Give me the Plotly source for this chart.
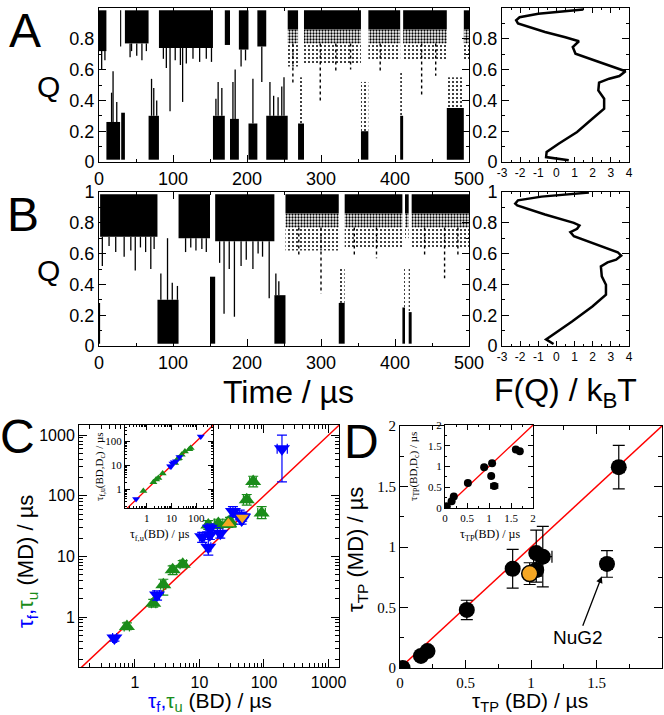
import plotly.graph_objects as go

# ======================= DATA =======================
Q_TOP = 0.985
Q_BOT = 0.015

# Panel A: Q(t) trajectory described as folded (F) / unfolded (U) dwell segments
A_seg_t0 = [0, 10, 28.5, 30, 35, 67, 81, 154, 170, 177, 189, 202, 214, 226, 255, 269, 277, 354, 364, 407, 411, 470, 493]
A_seg_t1 = [10, 28.5, 30, 35, 67, 81, 154, 170, 177, 189, 202, 214, 226, 255, 269, 277, 354, 364, 407, 411, 470, 493, 500]
A_seg_state = ["F", "U", "F", "U", "F", "U", "F", "U", "F", "U", "F", "U", "F", "U",
               "F", "U", "F", "U", "F", "U", "F", "U", "F"]
A_seg_edge = [0.72, 0.26, 0.75, 0.32, 0.77, 0.30, 0.74, 0.30, 0.76, 0.28, 0.73, 0.25, 0.75, 0.30,
              0.62, 0.55, 0.64, 0.52, 0.66, 0.58, 0.66, 0.55, 0.66]
A_seg_core = [0.72, 0.26, 0.75, 0.32, 0.77, 0.30, 0.74, 0.30, 0.76, 0.28, 0.73, 0.25, 0.75, 0.30,
              0.86, 0.25, 0.86, 0.20, 0.86, 0.30, 0.86, 0.35, 0.86]
A_sparse_from = 255
A_spike_t = [3.6, 8, 17, 19, 24, 42, 44, 51, 58, 64, 71, 74, 78, 87, 91, 96, 103, 110, 113, 118, 127,
             136, 145, 152, 158, 161, 166, 181, 184, 192, 198, 208, 220, 231, 236, 242, 247, 250,
             262, 299, 320, 340, 380, 436, 455]
A_spike_q = [0.60, 0.66, 0.45, 0.59, 0.39, 0.68, 0.72, 0.69, 0.66, 0.72, 0.54, 0.48, 0.40, 0.67, 0.61,
             0.33, 0.66, 0.63, 0.39, 0.64, 0.67, 0.65, 0.67, 0.65, 0.41, 0.52, 0.48, 0.52, 0.60, 0.62,
             0.66, 0.54, 0.52, 0.52, 0.43, 0.42, 0.49, 0.55,
             0.50, 0.39, 0.58, 0.60, 0.58, 0.43, 0.56]

# Panel B
B_seg_t0 = [0, 1.5, 79, 107.5, 150, 157, 237, 252, 324, 332, 410, 413.5, 418.5, 422.5]
B_seg_t1 = [1.5, 79, 107.5, 150, 157, 237, 252, 324, 332, 410, 413.5, 418.5, 422.5, 500]
B_seg_state = ["U", "F", "U", "F", "U", "F", "U", "F", "U", "F", "U", "F", "U", "F"]
B_seg_edge = [0.28, 0.71, 0.30, 0.70, 0.45, 0.68, 0.33, 0.62, 0.50, 0.63, 0.50, 0.70, 0.50, 0.64]
B_seg_core = [0.28, 0.71, 0.30, 0.70, 0.45, 0.68, 0.33, 0.86, 0.28, 0.86, 0.25, 0.86, 0.22, 0.86]
B_sparse_from = 252
B_spike_t = [4.5, 13.6, 22.6, 34, 43, 49, 56, 63, 70, 74.5, 83.6, 92.6, 99, 106, 117, 124, 131, 139,
             145, 163, 169, 176, 183, 192, 199, 208, 215, 221, 230, 239, 243,
             270, 300, 345, 375, 440, 467, 485]
B_spike_q = [0.52, 0.65, 0.61, 0.58, 0.62, 0.49, 0.64, 0.61, 0.50, 0.63, 0.47, 0.70, 0.41, 0.39, 0.61,
             0.64, 0.62, 0.63, 0.61, 0.54, 0.21, 0.50, 0.19, 0.52, 0.56, 0.50, 0.60, 0.58, 0.31, 0.47,
             0.42, 0.58, 0.34, 0.58, 0.57, 0.58, 0.44, 0.58]

# Free-energy profiles F(Q)
A_fe_F = [1.48, -1.0, -2.03, -2.22, -2.12, -0.63, 0.49, 1.24, 0.90, 1.05, 2.35, 3.38, 3.81, 3.47, 2.91,
          2.35, 2.31, 2.63, 2.63, 1.98, 1.14, 0.12, -0.54, -0.57, 0.68]
A_fe_Q = [0.99, 0.963, 0.94, 0.92, 0.90, 0.844, 0.81, 0.784, 0.747, 0.703, 0.649, 0.606, 0.589, 0.558,
          0.541, 0.515, 0.465, 0.411, 0.346, 0.281, 0.195, 0.119, 0.065, 0.032, 0.011]
B_fe_F = [1.79, -0.82, -2.12, -2.27, -2.16, -0.63, 0.96, 1.27, 1.14, 0.77, 0.96, 2.54, 3.38, 3.57, 3.29,
          2.82, 2.45, 2.50, 2.73, 2.73, 1.98, 0.86, -0.07, -0.57, -0.16]
B_fe_Q = [0.996, 0.97, 0.946, 0.924, 0.913, 0.854, 0.80, 0.783, 0.761, 0.739, 0.713, 0.648, 0.609, 0.587,
          0.561, 0.543, 0.517, 0.452, 0.398, 0.333, 0.257, 0.159, 0.083, 0.043, 0.013]
FE_ticks = [-3, -2, -1, 0, 1, 2, 3, 4]
FE_ticktext = ["-3", "-2", "-1", "0", "1", "2", "3", "4"]

# Panel C: folding (tau_f, blue) and unfolding (tau_u, green) times, BD vs MD
C_f_bd = [0.48, 2.2, 13.7, 11, 14.5, 14.5, 21, 42, 45, 33, 190]
C_f_bd_lo = [0.45, 2.0, 12.5, 10, 13.3, 13.3, 19, 39, 42, 30, 160]
C_f_bd_hi = [0.52, 2.4, 15, 12, 15.8, 15.8, 23, 45, 48, 36, 230]
C_f_md = [0.45, 2.3, 14.2, 21, 22.7, 29, 24, 48, 40, 55, 600]
C_f_md_lo = [0.40, 1.9, 10.5, 17, 19, 25, 20, 40, 34, 46, 170]
C_f_md_hi = [0.50, 2.7, 19, 25, 27, 34, 30, 58, 48, 66, 1000]
C_u_bd = [0.75, 1.92, 2.75, 3.84, 5.5, 13.7, 19.6, 29.7, 54, 68, 92]
C_u_bd_lo = [0.68, 1.8, 2.5, 3.5, 5.0, 12.5, 17, 27, 48, 60, 80]
C_u_bd_hi = [0.82, 2.1, 3.0, 4.4, 6.3, 15, 23, 33, 60, 76, 105]
C_u_md = [0.70, 1.68, 3.4, 6.0, 7.4, 33, 35, 37.6, 86, 172, 52]
C_u_md_lo = [0.62, 1.45, 2.3, 5.0, 6.5, 28, 29, 32, 70, 140, 42]
C_u_md_hi = [0.80, 1.95, 4.2, 7.0, 8.5, 39, 41, 44, 105, 210, 66]
C_hl_u = (28, 35, 30, 41)     # highlighted unfolding: bd, md, md_lo, md_hi
C_hl_f = (46, 44, 38, 50)     # highlighted folding
C_diag = [0.05, 5000]
C_ticks = [1, 10, 100, 1000]
# inset C: BD with Dc vs BD
Ci_f_bd = [0.37, 8.8, 9.6, 11, 12.5, 15.4, 21, 153]
Ci_f_bdc = [0.39, 9.2, 9.0, 11.9, 13.5, 14.8, 22.5, 160]
Ci_u_bd = [0.73, 1.86, 2.4, 2.95, 4.4, 14, 18, 20, 26, 35, 53, 60]
Ci_u_bdc = [0.85, 2.0, 2.6, 3.0, 4.6, 12.7, 19, 20, 28, 38, 48, 53]
Ci_ticks = [1, 10, 100]

# Panel D: transition-path times
D_bd = [0.02, 0.16, 0.21, 0.51, 0.86, 1.04, 1.04, 1.09, 1.67, 1.58]
D_md = [0.00, 0.10, 0.14, 0.48, 0.82, 0.81, 0.95, 0.92, 1.66, 0.86]
D_md_err = [0, 0.02, 0.02, 0.08, 0.16, 0.10, 0.19, 0.25, 0.18, 0.11]
D_bd_err = [0, 0, 0, 0, 0, 0, 0, 0.07, 0.04, 0.04]
D_hl = (0.99, 0.78, 0.09)
D_diag = [0, 2]
Di_bd = [0.04, 0.15, 0.20, 0.52, 0.89, 1.07, 1.05, 1.12, 1.61, 1.70]
Di_bdc = [0.04, 0.16, 0.28, 0.60, 0.98, 1.08, 0.77, 0.53, 1.41, 1.37]
Di_bd_err = [0, 0, 0, 0, 0, 0, 0, 0.08, 0, 0]
NUG2 = (1.54, 0.757)

# ======================= STYLE / LAYOUT =======================
W, H = 664, 715
SANS = "Liberation Sans, Arial, Helvetica, sans-serif"
SERIF = "Liberation Serif, Times New Roman, serif"
BLUE = "#0000ff"
GREEN = "#1a8c1a"
ORANGE = "#f5a623"
RED = "#ff0000"


def fx(p):
    return p / W


def fy(p):
    return 1 - p / H


fig = go.Figure()


def band(segs, xa, ya, solidity=None, size=3):
    segs = [s for s in segs if s[3] > s[2]]
    if not segs:
        return
    if solidity is None:
        marker = dict(color="black", line=dict(width=0))
    else:
        marker = dict(color="white", line=dict(width=0),
                      pattern=dict(shape=".", fgcolor="black", bgcolor="white",
                                   solidity=solidity, size=size, fillmode="replace"))
    fig.add_trace(go.Bar(x=[(a + b) / 2 for a, b, lo, hi in segs],
                         width=[b - a for a, b, lo, hi in segs],
                         base=[lo for a, b, lo, hi in segs],
                         y=[hi - lo for a, b, lo, hi in segs],
                         marker=marker, hoverinfo="skip", showlegend=False,
                         xaxis=xa, yaxis=ya))


def trajectory(t0s, t1s, states, edges, cores, sparse_from, sp_t, sp_q, xa, ya):
    black, mid, light = [], [], []
    for a, b, s, e, c in zip(t0s, t1s, states, edges, cores):
        if a < sparse_from:
            if s == "F":
                black.append((a, b, e, Q_TOP))
            else:
                black.append((a, b, Q_BOT, e))
        else:
            if s == "F":
                black.append((a, b, c, Q_TOP))
                mid.append((a, b, c - 0.09, c))
                light.append((a, b, e, c - 0.09))
            else:
                black.append((a, b, Q_BOT, c))
                light.append((a, b, c, e))
    band(light, xa, ya, solidity=0.2, size=4)
    band(mid, xa, ya, solidity=0.45, size=3)
    band(black, xa, ya)
    sx, sy, dx, dy = [], [], [], []
    for t, q in zip(sp_t, sp_q):
        for a, b, s, e, c in zip(t0s, t1s, states, edges, cores):
            if a <= t < b:
                if a < sparse_from:
                    sx += [t, t, None]
                    sy += [e, q, None]
                else:
                    base = c - 0.09 if s == "F" else c
                    dx += [t, t, None]
                    dy += [base, q, None]
                break
    fig.add_trace(go.Scatter(x=sx, y=sy, mode="lines", line=dict(color="black", width=1.3),
                             hoverinfo="skip", showlegend=False, xaxis=xa, yaxis=ya))
    fig.add_trace(go.Scatter(x=dx, y=dy, mode="lines", line=dict(color="black", width=1.4, dash="dot"),
                             hoverinfo="skip", showlegend=False, xaxis=xa, yaxis=ya))


trajectory(A_seg_t0, A_seg_t1, A_seg_state, A_seg_edge, A_seg_core, A_sparse_from,
           A_spike_t, A_spike_q, "x", "y")
fig.add_trace(go.Scatter(x=A_fe_F, y=A_fe_Q, mode="lines", line=dict(color="black", width=2.5),
                         showlegend=False, xaxis="x2", yaxis="y2"))
trajectory(B_seg_t0, B_seg_t1, B_seg_state, B_seg_edge, B_seg_core, B_sparse_from,
           B_spike_t, B_spike_q, "x3", "y3")
fig.add_trace(go.Scatter(x=B_fe_F, y=B_fe_Q, mode="lines", line=dict(color="black", width=2.5),
                         showlegend=False, xaxis="x4", yaxis="y4"))

# ---- Panel C ----
fig.add_trace(go.Scatter(x=C_diag, y=C_diag, mode="lines", line=dict(color=RED, width=1.5),
                         showlegend=False, xaxis="x5", yaxis="y5"))


def tri(xs, ys, xlo, xhi, ylo, yhi, sym, color, size, line_color=None, xa="x5", ya="y5"):
    fig.add_trace(go.Scatter(
        x=xs, y=ys, mode="markers",
        marker=dict(symbol=sym, size=size, color=color,
                    line=dict(color=line_color or color, width=1.5 if line_color else 0)),
        error_x=dict(type="data", symmetric=False,
                     array=[h - v for h, v in zip(xhi, xs)],
                     arrayminus=[v - l for l, v in zip(xlo, xs)],
                     color=line_color or color, thickness=1.2, width=5),
        error_y=dict(type="data", symmetric=False,
                     array=[h - v for h, v in zip(yhi, ys)],
                     arrayminus=[v - l for l, v in zip(ylo, ys)],
                     color=line_color or color, thickness=1.2, width=5),
        showlegend=False, xaxis=xa, yaxis=ya))


tri(C_u_bd, C_u_md, C_u_bd_lo, C_u_bd_hi, C_u_md_lo, C_u_md_hi, "triangle-up", GREEN, 14)
tri(C_f_bd, C_f_md, C_f_bd_lo, C_f_bd_hi, C_f_md_lo, C_f_md_hi, "triangle-down", BLUE, 14)
tri([C_hl_u[0]], [C_hl_u[1]], [C_hl_u[0]], [C_hl_u[0]], [C_hl_u[2]], [C_hl_u[3]],
    "triangle-up", ORANGE, 14, GREEN)
tri([C_hl_f[0]], [C_hl_f[1]], [C_hl_f[0]], [C_hl_f[0]], [C_hl_f[2]], [C_hl_f[3]],
    "triangle-down", ORANGE, 14, BLUE)

# inset C
fig.add_trace(go.Scatter(x=C_diag, y=C_diag, mode="lines", line=dict(color=RED, width=1.3),
                         showlegend=False, xaxis="x6", yaxis="y6"))
fig.add_trace(go.Scatter(x=Ci_u_bd, y=Ci_u_bdc, mode="markers",
                         marker=dict(symbol="triangle-up", size=7, color=GREEN),
                         showlegend=False, xaxis="x6", yaxis="y6"))
fig.add_trace(go.Scatter(x=Ci_f_bd, y=Ci_f_bdc, mode="markers",
                         marker=dict(symbol="triangle-down", size=7, color=BLUE),
                         showlegend=False, xaxis="x6", yaxis="y6"))

# ---- Panel D ----
fig.add_trace(go.Scatter(x=D_diag, y=D_diag, mode="lines", line=dict(color=RED, width=1.5),
                         showlegend=False, xaxis="x7", yaxis="y7"))
fig.add_trace(go.Scatter(x=D_bd, y=D_md, mode="markers",
                         marker=dict(symbol="circle", size=16, color="black"),
                         error_y=dict(type="data", array=D_md_err, color="black", thickness=1.2, width=6),
                         error_x=dict(type="data", array=D_bd_err, color="black", thickness=1.2, width=6),
                         showlegend=False, xaxis="x7", yaxis="y7"))
fig.add_trace(go.Scatter(x=[D_hl[0]], y=[D_hl[1]], mode="markers",
                         marker=dict(symbol="circle", size=16, color=ORANGE,
                                     line=dict(color="black", width=1.5)),
                         error_y=dict(type="data", array=[D_hl[2]], color="black", thickness=1.2, width=6),
                         showlegend=False, xaxis="x7", yaxis="y7"))
fig.add_trace(go.Scatter(x=D_diag, y=D_diag, mode="lines", line=dict(color=RED, width=1.3),
                         showlegend=False, xaxis="x8", yaxis="y8"))
fig.add_trace(go.Scatter(x=Di_bd, y=Di_bdc, mode="markers",
                         marker=dict(symbol="circle", size=8, color="black"),
                         error_x=dict(type="data", array=Di_bd_err, color="black", thickness=1, width=3),
                         showlegend=False, xaxis="x8", yaxis="y8"))


def axis(domain, rng, anchor, font, size, ticklen=7, minor=None, **kw):
    d = dict(domain=domain, range=rng, anchor=anchor, showline=True, linecolor="black",
             linewidth=1, mirror="allticks", ticks="inside", ticklen=ticklen, tickcolor="black",
             tickwidth=1, showgrid=False, zeroline=False, fixedrange=True, automargin=False,
             tickfont=dict(family=font, size=size, color="black"))
    if minor is not None:
        d["minor"] = dict(ticks="inside", ticklen=max(2, ticklen // 2), tickcolor="black",
                          showgrid=False, dtick=minor)
    d.update(kw)
    return d


XA = [fx(99), fx(469)]
XF = [fx(502), fx(629)]
YA = [fy(162), fy(8)]
YB = [fy(346), fy(192)]

layout = dict(
    width=W, height=H, margin=dict(l=0, r=0, t=0, b=0, autoexpand=False),
    paper_bgcolor="white", plot_bgcolor="white", showlegend=False, barmode="overlay",
    xaxis=axis(XA, [0, 500], "y", SANS, 18, 7, 50, tick0=0, dtick=100),
    yaxis=axis(YA, [0, 1], "x", SANS, 18, 7, 0.1, tick0=0, dtick=0.2),
    xaxis2=axis(XF, [-3, 4], "y2", SANS, 12, 5, 0.5, tickvals=FE_ticks, ticktext=FE_ticktext),
    yaxis2=axis(YA, [0, 1], "x2", SANS, 18, 7, 0.1, tick0=0, dtick=0.2),
    xaxis3=axis(XA, [0, 500], "y3", SANS, 18, 7, 50, tick0=0, dtick=100),
    yaxis3=axis(YB, [0, 1], "x3", SANS, 18, 7, 0.1, tick0=0, dtick=0.2),
    xaxis4=axis(XF, [-3, 4], "y4", SANS, 12, 5, 0.5, tickvals=FE_ticks, ticktext=FE_ticktext),
    yaxis4=axis(YB, [0, 1], "x4", SANS, 18, 7, 0.1, tick0=0, dtick=0.2),
    xaxis5=axis([fx(79), fx(339)], [-0.868, 3.163], "y5", SANS, 16, 8, "D1", type="log",
                tickvals=C_ticks, ticktext=[str(v) for v in C_ticks], ticklabelstandoff=1),
    yaxis5=axis([fy(667), fy(425)], [-0.825, 3.168], "x5", SANS, 16, 8, "D1", type="log",
                tickvals=C_ticks, ticktext=[str(v) for v in C_ticks]),
    xaxis6=axis([fx(125), fx(213)], [-0.88, 2.68], "y6", SERIF, 11, 5, "D1", type="log",
                tickvals=Ci_ticks, ticktext=[str(v) for v in Ci_ticks], ticklabelstandoff=0),
    yaxis6=axis([fy(508), fy(425)], [-0.78, 2.69], "x6", SERIF, 11, 5, "D1", type="log",
                tickvals=Ci_ticks, ticktext=[str(v) for v in Ci_ticks]),
    xaxis7=axis([fx(400), fx(662)], [0, 2], "y7", SERIF, 15, 8, 0.25, tick0=0, dtick=0.5,
                ticklabelstandoff=1),
    yaxis7=axis([fy(668), fy(426)], [0, 2], "x7", SERIF, 15, 8, 0.25, tick0=0, dtick=0.5),
    xaxis8=axis([fx(445), fx(533)], [0, 2], "y8", SERIF, 11, 5, 0.25, tick0=0, dtick=0.5,
                ticklabelstandoff=0),
    yaxis8=axis([fy(508), fy(425)], [0, 2], "x8", SERIF, 11, 5, 0.25, tick0=0, dtick=0.5),
)

blue_tf = "<span style='color:%s'>τ<sub>f</sub>,</span><span style='color:%s'>τ<sub>u</sub></span>" % (BLUE, GREEN)


def ann(text, x, y, size, font=SANS, angle=0):
    return dict(text=text, x=fx(x), y=fy(y), xref="paper", yref="paper", showarrow=False,
                xanchor="center", yanchor="middle", textangle=angle,
                font=dict(family=font, size=size, color="black"))


annotations = [
    ann("A", 25, 30, 48), ann("B", 23, 215, 48), ann("C", 17, 436, 48), ann("D", 361, 441, 48),
    ann("Q", 48, 86, 30), ann("Q", 48, 270, 30),
    ann("Time / µs", 288, 392, 32),
    ann("F(Q) / k<sub>B</sub>T", 565, 392, 32),
    ann(blue_tf + " (MD) / µs", 27, 562, 22, angle=-90),
    ann(blue_tf + " (BD) / µs", 210, 702, 21),
    ann("τ<sub>TP</sub> (MD) / µs", 357, 550, 22, angle=-90),
    ann("τ<sub>TP</sub> (BD) / µs", 530, 702, 21),
    ann("τ<sub>f,u</sub>(BD,D<sub>c</sub>) / µs", 100, 467, 11, SERIF, -90),
    ann("τ<sub>f,u</sub>(BD) / µs", 160, 535, 12, SERIF),
    ann("τ<sub>TP</sub>(BD,D<sub>c</sub>) / µs", 414, 467, 11, SERIF, -90),
    ann("τ<sub>TP</sub>(BD) / µs", 490, 535, 12, SERIF),
    dict(text="NuG2", x=NUG2[0], y=NUG2[1], xref="x7", yref="y7",
         ax=1.36, ay=0.25, axref="x7", ayref="y7", showarrow=True, arrowhead=2,
         arrowsize=1, arrowwidth=1.3, arrowcolor="black",
         font=dict(family=SANS, size=19, color="black")),
]
layout["annotations"] = annotations
fig.update_layout(**layout)
fig.write_html("out.html", config={"displayModeBar": False, "staticPlot": True},
               post_script="document.body.style.margin='0';document.body.style.padding='0';"
                           "document.body.style.overflow='hidden';")
